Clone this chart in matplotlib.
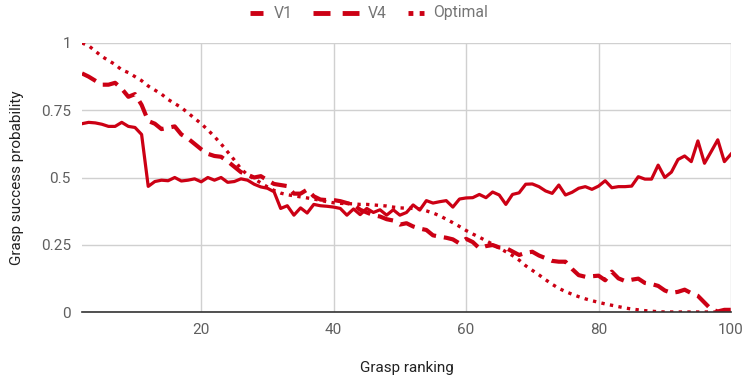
import numpy as np
import matplotlib
matplotlib.use("Agg")
import matplotlib.pyplot as plt
from matplotlib.lines import Line2D

plt.rcParams['font.family'] = ['Roboto', 'DejaVu Sans']

# grasp ranking 2..100
ranking = list(range(2, 101))

v1 = [0.700, 0.705, 0.703, 0.698, 0.690, 0.690, 0.705, 0.690, 0.686, 0.660,
      0.467, 0.485, 0.490, 0.488, 0.500, 0.487, 0.490, 0.495, 0.484, 0.500,
      0.490, 0.500, 0.482, 0.485, 0.495, 0.490, 0.475, 0.465, 0.460, 0.447,
      0.385, 0.395, 0.360, 0.387, 0.368, 0.400, 0.395, 0.393, 0.390, 0.385,
      0.360, 0.383, 0.362, 0.385, 0.370, 0.380, 0.360, 0.380, 0.360, 0.370,
      0.398, 0.379, 0.414, 0.405, 0.410, 0.414, 0.390, 0.420, 0.424, 0.425,
      0.437, 0.425, 0.446, 0.435, 0.400, 0.437, 0.443, 0.475, 0.476, 0.466,
      0.450, 0.441, 0.472, 0.435, 0.445, 0.460, 0.466, 0.456, 0.468, 0.488,
      0.462, 0.466, 0.466, 0.468, 0.503, 0.494, 0.494, 0.546, 0.500, 0.520,
      0.567, 0.580, 0.559, 0.636, 0.553, 0.596, 0.640, 0.559, 0.587]

v4 = [0.887, 0.875, 0.860, 0.845, 0.845, 0.852, 0.830, 0.800, 0.810, 0.770,
      0.710, 0.700, 0.680, 0.685, 0.690, 0.660, 0.645, 0.625, 0.605, 0.588,
      0.580, 0.577, 0.560, 0.540, 0.520, 0.510, 0.500, 0.505, 0.490, 0.476,
      0.472, 0.468, 0.440, 0.440, 0.455, 0.430, 0.418, 0.416, 0.416, 0.412,
      0.405, 0.400, 0.380, 0.370, 0.360, 0.355, 0.345, 0.340, 0.325, 0.330,
      0.318, 0.310, 0.305, 0.285, 0.280, 0.276, 0.270, 0.255, 0.272, 0.260,
      0.237, 0.245, 0.249, 0.240, 0.238, 0.225, 0.212, 0.220, 0.224, 0.210,
      0.200, 0.190, 0.187, 0.187, 0.160, 0.137, 0.131, 0.133, 0.135, 0.118,
      0.150, 0.125, 0.115, 0.120, 0.124, 0.108, 0.104, 0.097, 0.080, 0.071,
      0.075, 0.083, 0.070, 0.060, 0.035, 0.010, 0.002, 0.008, 0.008]

optimal = [1.000, 0.990, 0.970, 0.950, 0.935, 0.920, 0.900, 0.890, 0.875, 0.860,
           0.840, 0.825, 0.810, 0.790, 0.775, 0.760, 0.740, 0.720, 0.700, 0.677,
           0.652, 0.625, 0.595, 0.565, 0.532, 0.510, 0.495, 0.480, 0.465, 0.452,
           0.442, 0.436, 0.432, 0.428, 0.424, 0.420, 0.415, 0.410, 0.406, 0.404,
           0.403, 0.402, 0.400, 0.400, 0.398, 0.396, 0.394, 0.390, 0.387, 0.386,
           0.385, 0.383, 0.376, 0.368, 0.358, 0.345, 0.332, 0.318, 0.303, 0.290,
           0.278, 0.265, 0.252, 0.238, 0.224, 0.210, 0.193, 0.172, 0.155, 0.138,
           0.120, 0.103, 0.088, 0.076, 0.066, 0.057, 0.049, 0.042, 0.036, 0.030,
           0.025, 0.020, 0.015, 0.011, 0.008, 0.005, 0.003, 0.001, 0.000, 0.000,
           0.000, 0.000, 0.000, 0.000, 0.000, 0.000, 0.000, 0.000, 0.000]

yticks = [0, 0.25, 0.5, 0.75, 1]
ytick_labels = ['0', '0.25', '0.5', '0.75', '1']
xticks = [20, 40, 60, 80, 100]

red = '#cc0014'
grey_txt = '#5f5f5f'
W, H = 748, 386

fig = plt.figure(figsize=(W / 100, H / 100), dpi=100)
ax = fig.add_axes([82 / W, 74 / H, 649 / W, 269 / H])

ax.plot(ranking, v1, color=red, lw=2.3)
ax.plot(ranking, v4, color=red, lw=3.0, dashes=(3.8, 1.9), dash_capstyle='butt')
ax.plot(ranking, optimal, color=red, lw=2.4, dashes=(1, 1.6), dash_capstyle='butt')

ax.set_xlim(2, 100)
ax.set_ylim(0, 1)
ax.set_xticks(xticks)
ax.set_yticks(yticks)
ax.set_yticklabels(ytick_labels)
ax.grid(True, color='#d0d0d0', lw=1)
ax.set_axisbelow(True)
for s in ['top', 'right', 'left']:
    ax.spines[s].set_visible(False)
ax.spines['bottom'].set_color('#333333')
ax.spines['bottom'].set_linewidth(1.2)
ax.tick_params(length=0, labelsize=11, colors=grey_txt, pad=8)

ax.set_xlabel('Grasp ranking', fontsize=11, color='#222222', labelpad=17)
ax.set_ylabel('Grasp success probability', fontsize=11, color='#222222', labelpad=12)

# legend drawn by hand, google-charts style
ly = 1 - 13 / H
fig.add_artist(Line2D([250 / W, 263 / W], [ly, ly], color=red, lw=3.5,
                      solid_capstyle='butt'))
fig.add_artist(Line2D([313 / W, 359 / W], [ly, ly], color=red, lw=3.5,
                      dashes=(3.5, 2.5), dash_capstyle='butt'))
fig.add_artist(Line2D([408 / W, 424 / W], [ly, ly], color=red, lw=3.5,
                      dashes=(1, 1.3), dash_capstyle='butt'))
for name, x in [('V1', 274), ('V4', 368), ('Optimal', 433)]:
    fig.text(x / W, ly, name, fontsize=11.3, color='#757575', va='center', ha='left')

fig.savefig('out.png', dpi=100)
